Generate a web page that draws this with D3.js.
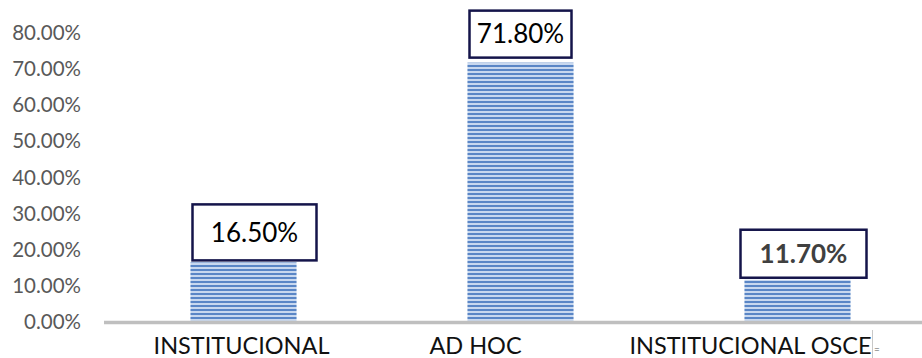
<!DOCTYPE html>
<html>
<head>
<meta charset="utf-8">
<script src="https://cdn.jsdelivr.net/npm/d3@7"></script>
<style>
  html, body { margin: 0; padding: 0; background: #fff; }
  svg { display: block; }
</style>
</head>
<body>
<svg id="chart" width="922" height="358"></svg>
<script>
// Chart data
const categories = ["INSTITUCIONAL", "AD HOC", "INSTITUCIONAL OSCE"];
const values = [0.165, 0.718, 0.117];
const valueLabels = ["16.50%", "71.80%", "11.70%"];
const yTicks = [0, 0.1, 0.2, 0.3, 0.4, 0.5, 0.6, 0.7, 0.8];

const svg = d3.select("#chart");
const W = 922, H = 358;

const x = d3.scaleBand()
  .domain(categories)
  .range([105, 936])
  .paddingInner(0.617)
  .paddingOuter(0.3085);

const y = d3.scaleLinear().domain([0, 0.8]).range([322, 33]);

// Horizontal stripe fill for the bars
const defs = svg.append("defs");
const pat = defs.append("pattern")
  .attr("id", "stripes")
  .attr("patternUnits", "userSpaceOnUse")
  .attr("width", 8).attr("height", 4);
pat.append("rect").attr("width", 8).attr("height", 4).attr("fill", "#c8d8ef");
pat.append("rect").attr("y", 1).attr("width", 8).attr("height", 2).attr("fill", "#5a86c6");

// Y axis tick labels (no axis line, no ticks)
const yAxis = d3.axisLeft(y)
  .tickValues(yTicks)
  .tickFormat(d => d3.format(".2f")(d * 100) + "%")
  .tickSize(0)
  .tickPadding(0);
const gy = svg.append("g").attr("transform", "translate(81,0)").call(yAxis);
gy.select(".domain").remove();
gy.selectAll("text")
  .attr("fill", "#595959")
  .style("font-family", "Lato, 'Open Sans', sans-serif")
  .style("font-size", "20.5px");

// Bars
svg.append("g").selectAll("rect.bar")
  .data(values)
  .join("rect")
  .attr("class", "bar")
  .attr("x", (d, i) => x(categories[i]))
  .attr("width", x.bandwidth())
  .attr("y", d => y(d))
  .attr("height", d => y(0) - y(d) - 1)
  .attr("fill", "url(#stripes)");

// Baseline
svg.append("line")
  .attr("x1", 104).attr("x2", W)
  .attr("y1", y(0) + 0.5).attr("y2", y(0) + 0.5)
  .attr("stroke", "#bfbfbf").attr("stroke-width", 3.5);

// Category labels
const labelShift = [-2, -45, -47];
svg.append("g").selectAll("text.cat")
  .data(categories)
  .join("text")
  .attr("class", "cat")
  .attr("x", (d, i) => x(d) + x.bandwidth() / 2 + labelShift[i])
  .attr("y", 354)
  .attr("text-anchor", "middle")
  .attr("fill", "#111")
  .style("font-family", "Lato, 'Open Sans', sans-serif")
  .style("font-size", "23.5px")
  .text(d => d);

// Value callouts
const boxW = [124, 102, 126];
const boxH = [56, 47, 48];
const boxShift = [11, 0, 6];
const boxGap = [2, 5, 2];
const callouts = svg.append("g").selectAll("g.callout")
  .data(values)
  .join("g")
  .attr("class", "callout")
  .attr("transform", (d, i) => {
    const cx = x(categories[i]) + x.bandwidth() / 2 + boxShift[i];
    const bottom = y(d) - boxGap[i];
    return `translate(${cx},${bottom})`;
  });
callouts.append("rect")
  .attr("x", (d, i) => -boxW[i] / 2)
  .attr("y", (d, i) => -boxH[i])
  .attr("width", (d, i) => boxW[i])
  .attr("height", (d, i) => boxH[i])
  .attr("fill", "#fff")
  .attr("stroke", "#14144a")
  .attr("stroke-width", 2.5);
callouts.append("text")
  .attr("x", 0)
  .attr("y", (d, i) => -boxH[i] / 2)
  .attr("dy", "0.36em")
  .attr("text-anchor", "middle")
  .attr("fill", (d, i) => i === 2 ? "#404040" : "#000")
  .style("font-family", "Lato, 'Open Sans', sans-serif")
  .style("font-weight", (d, i) => i === 2 ? "bold" : "normal")
  .style("font-size", "26px")
  .text((d, i) => valueLabels[i]);

// Text cursor mark after the last label
svg.append("line")
  .attr("x1", 872.5).attr("x2", 872.5)
  .attr("y1", 330).attr("y2", 358)
  .attr("stroke", "#c8c8c8").attr("stroke-width", 1);
svg.append("text")
  .attr("x", 874).attr("y", 353)
  .attr("fill", "#555")
  .style("font-family", "Lato, sans-serif")
  .style("font-size", "10px")
  .text("=");
</script>
</body>
</html>
